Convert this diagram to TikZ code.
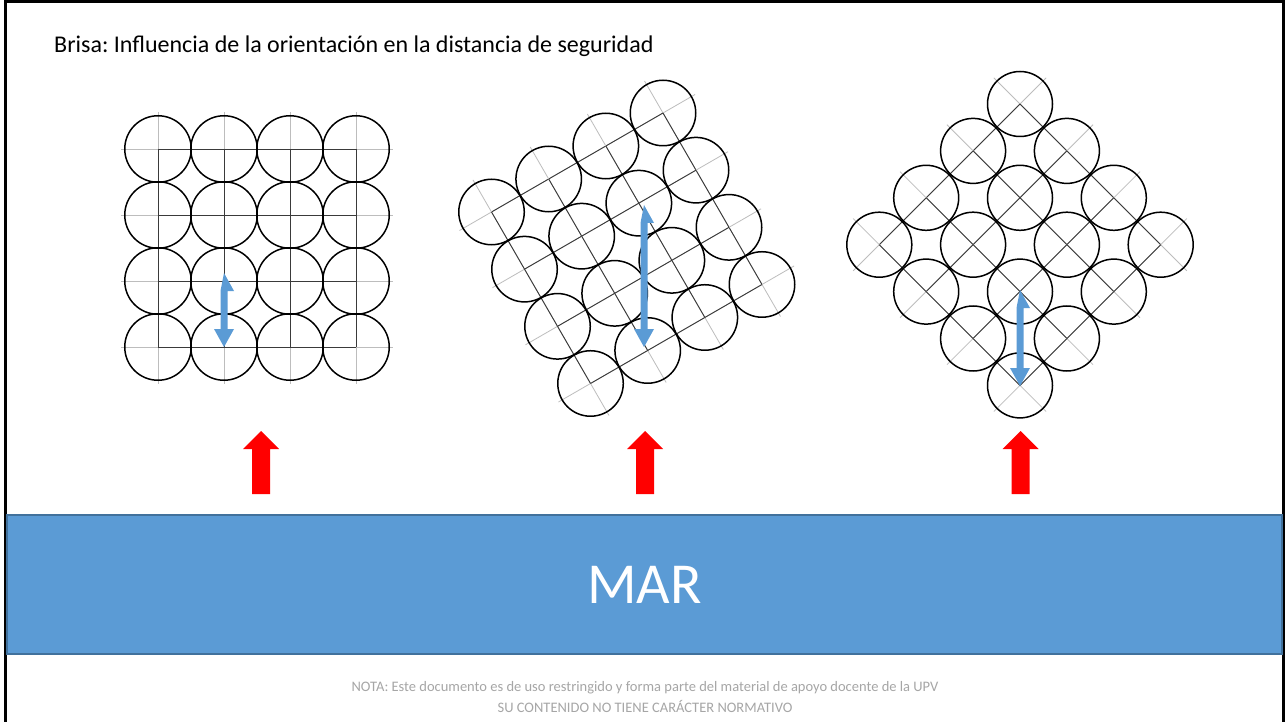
\documentclass[tikz,border=0pt]{standalone}
\usepackage{fontspec}
\setmainfont{Carlito}
\usetikzlibrary{calc}
\frenchspacing
\definecolor{seablue}{HTML}{5B9BD5}
\definecolor{seaedge}{HTML}{41719C}
\definecolor{notegray}{HTML}{A6A6A6}
\definecolor{lightgrid}{HTML}{BDBDBD}
\definecolor{darkgrid}{HTML}{3A3A3A}
\definecolor{windred}{HTML}{FF0000}
\begin{document}
\begin{tikzpicture}[x=1pt,y=-1pt,
  ball/.style={circle,draw=black,line width=1.5pt,minimum size=#1,inner sep=0pt},
  lightline/.style={draw=lightgrid,line width=0.8pt},
  darkline/.style={draw=darkgrid,line width=0.9pt},
  bluearrow/.style={fill=seablue},
  redarrow/.style={fill=windred},
  band/.style={rectangle,fill=seablue,draw=seaedge,line width=1.5pt,inner sep=0pt},
  notetext/.style={text=notegray,font=\fontsize{14.5}{18}\selectfont,inner sep=0pt,anchor=base}]
\useasboundingbox (0,0) rectangle (1285,722);
\fill[white] (0,0) rectangle (1285,722);
% frame
\draw[line width=2.5pt] (5.5,722) -- (5.5,1.5) -- (1283.5,1.5) -- (1283.5,722);
% title
\node[anchor=base west,font=\fontsize{24}{29}\selectfont,inner sep=0pt] (title) at (54,53)
  {Brisa: Influencia de la orientación en la distancia de seguridad};
% grid centres
\foreach \i in {0,...,3}{
  \foreach \j in {0,...,3}{
    \coordinate (a-\i-\j) at ({158+66*\i},{149+66*\j});
    \coordinate (b-\i-\j) at ({663+33*\i-57.16*\j},{113+57.16*\i+33*\j});
    \coordinate (c-\i-\j) at ({1020+46.9*\i-46.9*\j},{104+46.9*\i+46.9*\j});
  }
}
% grid lines
\foreach \g in {a,b,c}{
  \foreach \k in {0,...,3}{
    \draw[lightline] ($(\g-0-\k)!-37pt!(\g-3-\k)$) -- ($(\g-3-\k)!-37pt!(\g-0-\k)$);
    \draw[lightline] ($(\g-\k-0)!-37pt!(\g-\k-3)$) -- ($(\g-\k-3)!-37pt!(\g-\k-0)$);
    \draw[darkline] (\g-0-\k) -- (\g-3-\k);
    \draw[darkline] (\g-\k-0) -- (\g-\k-3);
  }
}
% circles
\foreach \i in {0,...,3}{
  \foreach \j in {0,...,3}{
    \node[ball=66.5pt] (na-\i-\j) at (a-\i-\j) {};
    \node[ball=65.5pt] (nb-\i-\j) at (b-\i-\j) {};
    \node[ball=65pt] (nc-\i-\j) at (c-\i-\j) {};
  }
}
% blue double arrows
\coordinate (t1) at (224,273); \coordinate (b1) at (224,347);
\coordinate (t2) at (644,205); \coordinate (b2) at (644,347);
\coordinate (t3) at (1020,290); \coordinate (b3) at (1020,386);
\foreach \n in {1,2,3}{
  \fill[bluearrow] (t\n) -- ++(10,18) -- ++(-6.5,0) -- ($(b\n)+(3.5,-18)$) -- ++(6.5,0) -- (b\n)
    -- ++(-10,-18) -- ++(6.5,0) -- ($(t\n)+(-3.5,18)$) -- cycle;
}
% red wind arrows
\coordinate (r1) at (261,431);
\coordinate (r2) at (645,431);
\coordinate (r3) at (1020.5,431);
\foreach \n in {1,2,3}{
  \fill[redarrow] (r\n) -- ++(18,18) -- ++(-9,0) -- ++(0,45) -- ++(-18,0) -- ++(0,-45) -- ++(-9,0) -- cycle;
}
% sea band
\node[band,minimum width=1275pt,minimum height=139pt,text=white,font=\fontsize{58}{70}\selectfont] (mar) at (644.5,584.5) {MAR};
% footer
\node[notetext] (nota1) at (645,691) {NOTA: Este documento es de uso restringido y forma parte del material de apoyo docente de la UPV};
\node[notetext] (nota2) at (645,712) {SU CONTENIDO NO TIENE CARÁCTER NORMATIVO};
\end{tikzpicture}
\end{document}
